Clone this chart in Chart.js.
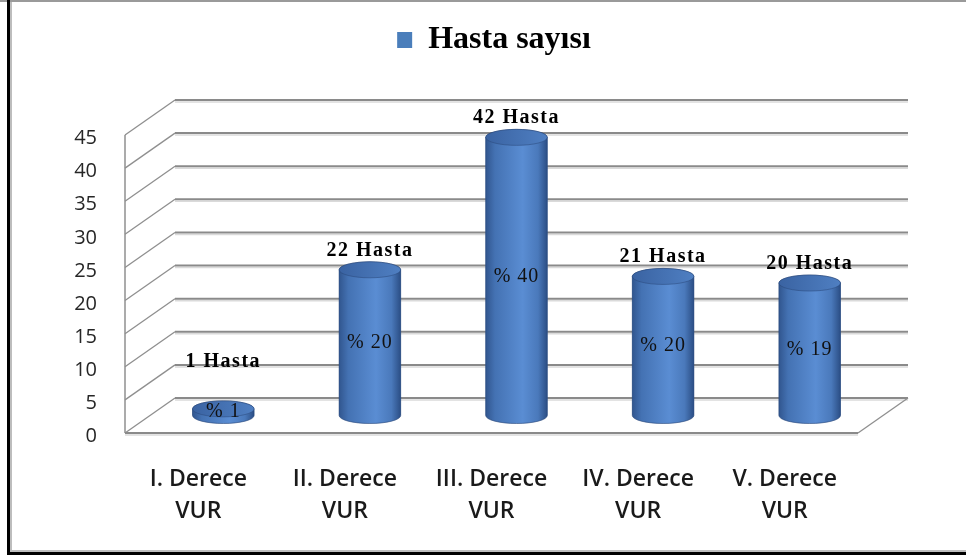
<!DOCTYPE html>
<html>
<head>
<meta charset="utf-8">
<script src="https://cdn.jsdelivr.net/npm/chart.js@4.4.1/dist/chart.umd.min.js"></script>
<style>
  html, body { margin: 0; padding: 0; background: #fff; }
  canvas { display: block; }
</style>
</head>
<body>
<canvas id="grafico" width="966" height="555"></canvas>
<script>
// Veriler
const kategoriler = [
    ['I. Derece', 'VUR'],
    ['II. Derece', 'VUR'],
    ['III. Derece', 'VUR'],
    ['IV. Derece', 'VUR'],
    ['V. Derece', 'VUR']
];
const hastaSayisi = [1, 22, 42, 21, 20];
const yuzdeler = [1, 20, 40, 20, 19];
const eksenMin = 0;
const eksenMax = 45;
const eksenAdim = 5;

// 3B görünüm için derinlik kaydırması
const DERINLIK_X = 25;
const DERINLIK_Y = 17.5;
const ELIPS_RY = 8;

function cizgi(ctx, x1, y1, x2, y2, renk, kalinlik) {
    ctx.beginPath();
    ctx.moveTo(x1, y1);
    ctx.lineTo(x2, y2);
    ctx.strokeStyle = renk;
    ctx.lineWidth = kalinlik;
    ctx.stroke();
}

function silindirCiz(ctx, x, ust, taban, genislik) {
    const rx = genislik / 2;
    const ry = ELIPS_RY;
    const sol = x - rx;
    const sag = x + rx;

    const govde = ctx.createLinearGradient(sol, 0, sag, 0);
    govde.addColorStop(0, '#31568f');
    govde.addColorStop(0.15, '#4472b3');
    govde.addColorStop(0.6, '#5a8dd3');
    govde.addColorStop(0.85, '#4a79bb');
    govde.addColorStop(1, '#2b4e85');

    ctx.beginPath();
    ctx.moveTo(sol, ust);
    ctx.lineTo(sol, taban);
    ctx.ellipse(x, taban, rx, ry, 0, Math.PI, 0, true);
    ctx.lineTo(sag, ust);
    ctx.ellipse(x, ust, rx, ry, 0, 0, Math.PI, true);
    ctx.closePath();
    ctx.fillStyle = govde;
    ctx.fill();
    ctx.strokeStyle = 'rgba(40, 70, 120, 0.6)';
    ctx.lineWidth = 1;
    ctx.stroke();

    // üst kapak
    const kapak = ctx.createLinearGradient(sol, 0, sag, 0);
    kapak.addColorStop(0, '#3a63a2');
    kapak.addColorStop(1, '#4f7fc2');
    ctx.beginPath();
    ctx.ellipse(x, ust, rx, ry, 0, 0, Math.PI * 2);
    ctx.fillStyle = kapak;
    ctx.fill();
    ctx.strokeStyle = 'rgba(40, 70, 120, 0.5)';
    ctx.stroke();
}

const cerceve = {
    id: 'cerceve',
    beforeDraw(chart) {
        const { ctx, width, height } = chart;
        ctx.save();
        ctx.fillStyle = '#fff';
        ctx.fillRect(0, 0, width, height);
        ctx.fillStyle = '#9a9a9a';
        ctx.fillRect(0, 0, width, 2);
        ctx.fillStyle = '#bdbdbd';
        ctx.fillRect(10, 2, 2, height - 5);
        ctx.fillRect(10, height - 5, width - 10, 2);
        ctx.fillStyle = '#000';
        ctx.fillRect(7, 0, 3, height);
        ctx.fillRect(7, height - 3, width - 7, 3);
        ctx.restore();
    }
};

const duvarlar = {
    id: 'duvarlar',
    beforeDatasetsDraw(chart) {
        const { ctx, chartArea: a, scales: { y } } = chart;
        const y0 = y.getPixelForValue(eksenMin);
        const yMax = y.getPixelForValue(eksenMax);
        ctx.save();
        y.ticks.forEach(t => {
            const py = y.getPixelForValue(t.value);
            // arka duvar çizgisi
            cizgi(ctx, a.left + DERINLIK_X, py - DERINLIK_Y + 2, a.right + DERINLIK_X, py - DERINLIK_Y + 2, '#dadada', 1.5);
            cizgi(ctx, a.left + DERINLIK_X, py - DERINLIK_Y, a.right + DERINLIK_X, py - DERINLIK_Y, '#8a8a8a', 2);
            // yan duvar çizgisi
            cizgi(ctx, a.left - DERINLIK_X, py + DERINLIK_Y, a.left + DERINLIK_X, py - DERINLIK_Y, '#8f8f8f', 1.3);
        });
        // ön dikey eksen
        cizgi(ctx, a.left - DERINLIK_X, y0 + DERINLIK_Y, a.left - DERINLIK_X, yMax + DERINLIK_Y, '#8f8f8f', 1.5);
        // zemin
        cizgi(ctx, a.left - DERINLIK_X, y0 + DERINLIK_Y + 2, a.right - DERINLIK_X, y0 + DERINLIK_Y + 2, '#dadada', 1.5);
        cizgi(ctx, a.left - DERINLIK_X, y0 + DERINLIK_Y, a.right - DERINLIK_X, y0 + DERINLIK_Y, '#8a8a8a', 2);
        cizgi(ctx, a.right - DERINLIK_X, y0 + DERINLIK_Y, a.right + DERINLIK_X, y0 - DERINLIK_Y, '#8f8f8f', 1.3);
        ctx.restore();
    }
};

const silindirler = {
    id: 'silindirler',
    afterDatasetsDraw(chart) {
        const { ctx } = chart;
        const meta = chart.getDatasetMeta(0);
        ctx.save();
        meta.data.forEach((bar, i) => {
            const { x, y, base, width } = bar.getProps(['x', 'y', 'base', 'width'], true);
            silindirCiz(ctx, x, y, base, width);

            const orta = (y + base) / 2;
            ctx.fillStyle = '#000';
            ctx.textAlign = 'center';

            ctx.font = 'bold 20px "Liberation Serif"';
            ctx.letterSpacing = '1.5px';
            ctx.textBaseline = 'alphabetic';
            const yaziY = Math.min(y - ELIPS_RY - 6, orta - 45);
            ctx.fillText(hastaSayisi[i] + ' Hasta', x, yaziY);

            ctx.font = '20px "Liberation Serif"';
            ctx.letterSpacing = '1px';
            ctx.textBaseline = 'middle';
            ctx.fillStyle = '#111';
            ctx.fillText('% ' + yuzdeler[i], x, orta);
        });
        ctx.restore();
    }
};

const PAD_UST = 14;
const lejantAralik = {
    id: 'lejantAralik',
    beforeInit(chart) {
        const eskiFit = chart.legend.fit;
        chart.legend.fit = function () {
            eskiFit.call(this);
            this.height = 117.5 - PAD_UST;
        };
    }
};

const ctx = document.getElementById('grafico').getContext('2d');
new Chart(ctx, {
    type: 'bar',
    data: {
        labels: kategoriler,
        datasets: [{
            label: 'Hasta sayısı',
            data: hastaSayisi,
            backgroundColor: '#4a7ebb',
            borderWidth: 0,
            barPercentage: 0.42,
            categoryPercentage: 1
        }]
    },
    options: {
        responsive: false,
        animation: false,
        events: [],
        layout: {
            padding: { top: PAD_UST, left: 24, right: 2, bottom: 5 }
        },
        scales: {
            x: {
                grid: { display: false, drawTicks: false },
                border: { display: false },
                ticks: {
                    color: '#1a1a1a',
                    font: { family: 'Open Sans', size: 23, weight: '600', lineHeight: 1.4 },
                    padding: 48,
                    labelOffset: -DERINLIK_X,
                    maxRotation: 0,
                    autoSkip: false
                },
                afterFit(scale) { scale.height = 555 - 5 - 415.5; }
            },
            y: {
                min: eksenMin,
                max: eksenMax,
                grid: { display: false, drawTicks: false },
                border: { display: false },
                ticks: {
                    stepSize: eksenAdim,
                    color: '#262626',
                    font: { family: 'Open Sans', size: 20 },
                    padding: 53,
                    labelOffset: 21
                },
                afterFit(scale) { scale.width = 150 - 24; }
            },
            sag: {
                position: 'right',
                grid: { display: false, drawTicks: false },
                border: { display: false },
                ticks: { display: false },
                afterFit(scale) { scale.width = 966 - 2 - 883; }
            }
        },
        plugins: {
            legend: {
                position: 'top',
                labels: {
                    color: '#000',
                    font: { family: 'Liberation Serif', size: 32, weight: 'bold' },
                    boxWidth: 15,
                    boxHeight: 16,
                    padding: 10
                }
            },
            tooltip: { enabled: false }
        }
    },
    plugins: [cerceve, duvarlar, silindirler, lejantAralik]
});
</script>
</body>
</html>
